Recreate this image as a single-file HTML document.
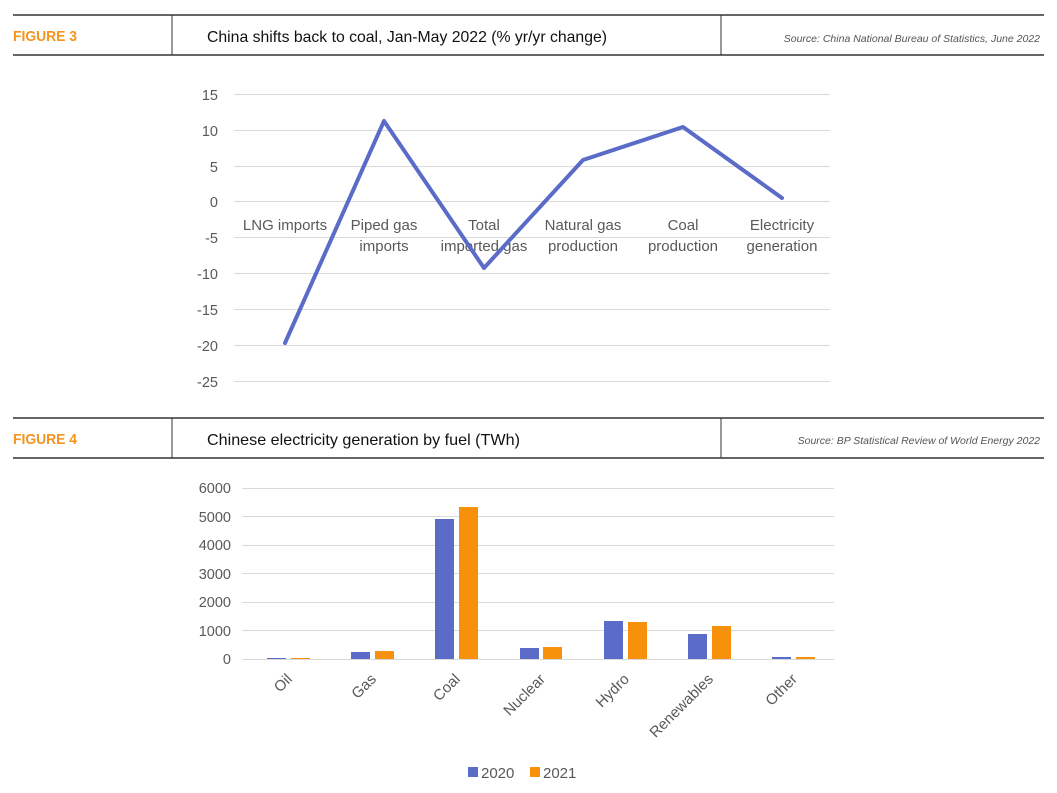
<!DOCTYPE html>
<html><head><meta charset="utf-8"><style>
body{margin:0;background:#fff;}
svg{display:block;}
</style></head><body>
<svg width="1057" height="793" viewBox="0 0 1057 793" xmlns="http://www.w3.org/2000/svg" font-family="Liberation Sans, sans-serif">
<line x1="13" y1="15" x2="1044" y2="15" stroke="#333" stroke-width="1.5"/>
<line x1="13" y1="55" x2="1044" y2="55" stroke="#333" stroke-width="1.5"/>
<line x1="172" y1="15" x2="172" y2="55" stroke="#333" stroke-width="1"/>
<line x1="721" y1="15" x2="721" y2="55" stroke="#333" stroke-width="1"/>
<text x="13" y="41" font-size="15" font-weight="bold" fill="#f7941d" textLength="64" lengthAdjust="spacingAndGlyphs">FIGURE 3</text>
<text x="207" y="42" font-size="16" fill="#111" textLength="400" lengthAdjust="spacingAndGlyphs">China shifts back to coal, Jan-May 2022 (% yr/yr change)</text>
<text x="1040" y="42" font-size="10.5" font-style="italic" fill="#555" text-anchor="end">Source: China National Bureau of Statistics, June 2022</text>
<line x1="13" y1="418" x2="1044" y2="418" stroke="#333" stroke-width="1.5"/>
<line x1="13" y1="458" x2="1044" y2="458" stroke="#333" stroke-width="1.5"/>
<line x1="172" y1="418" x2="172" y2="458" stroke="#333" stroke-width="1"/>
<line x1="721" y1="418" x2="721" y2="458" stroke="#333" stroke-width="1"/>
<text x="13" y="444" font-size="15" font-weight="bold" fill="#f7941d" textLength="64" lengthAdjust="spacingAndGlyphs">FIGURE 4</text>
<text x="207" y="445" font-size="16" fill="#111" textLength="313" lengthAdjust="spacingAndGlyphs">Chinese electricity generation by fuel (TWh)</text>
<text x="1040" y="444" font-size="10.5" font-style="italic" fill="#555" text-anchor="end">Source: BP Statistical Review of World Energy 2022</text>

<g stroke="#d9d9d9" stroke-width="1">
<line x1="234" y1="94.5" x2="830" y2="94.5"/>
<line x1="234" y1="130.5" x2="830" y2="130.5"/>
<line x1="234" y1="166.5" x2="830" y2="166.5"/>
<line x1="234" y1="201.5" x2="830" y2="201.5"/>
<line x1="234" y1="237.5" x2="830" y2="237.5"/>
<line x1="234" y1="273.5" x2="830" y2="273.5"/>
<line x1="234" y1="309.5" x2="830" y2="309.5"/>
<line x1="234" y1="345.5" x2="830" y2="345.5"/>
<line x1="234" y1="381.5" x2="830" y2="381.5"/>
</g>
<g font-size="14.5" fill="#595959" text-anchor="end">
<text x="218" y="100">15</text>
<text x="218" y="136">10</text>
<text x="218" y="172">5</text>
<text x="218" y="207">0</text>
<text x="218" y="243">-5</text>
<text x="218" y="279">-10</text>
<text x="218" y="315">-15</text>
<text x="218" y="351">-20</text>
<text x="218" y="387">-25</text>
</g>
<g font-size="15" fill="#595959" text-anchor="middle">
<text x="285" y="230">LNG imports</text>
<text x="384" y="230">Piped gas</text><text x="384" y="251">imports</text>
<text x="484" y="230">Total</text><text x="484" y="251">imported gas</text>
<text x="583" y="230">Natural gas</text><text x="583" y="251">production</text>
<text x="683" y="230">Coal</text><text x="683" y="251">production</text>
<text x="782" y="230">Electricity</text><text x="782" y="251">generation</text>
</g>
<polyline points="285,343 384,121 484,268 583,160 683,127 782,198" fill="none" stroke="#5b6bc8" stroke-width="4" stroke-linejoin="round" stroke-linecap="round"/>

<g stroke="#d9d9d9" stroke-width="1">
<line x1="242" y1="488.5" x2="834" y2="488.5"/>
<line x1="242" y1="516.5" x2="834" y2="516.5"/>
<line x1="242" y1="545.5" x2="834" y2="545.5"/>
<line x1="242" y1="573.5" x2="834" y2="573.5"/>
<line x1="242" y1="602.5" x2="834" y2="602.5"/>
<line x1="242" y1="630.5" x2="834" y2="630.5"/>
<line x1="242" y1="659.5" x2="834" y2="659.5"/>
</g>
<g font-size="14.5" fill="#595959" text-anchor="end">
<text x="231" y="493">6000</text>
<text x="231" y="522">5000</text>
<text x="231" y="550">4000</text>
<text x="231" y="579">3000</text>
<text x="231" y="607">2000</text>
<text x="231" y="636">1000</text>
<text x="231" y="664">0</text>
</g>
<g fill="#5b6bc8">
<rect x="267" y="658" width="19" height="1"/>
<rect x="351" y="652" width="19" height="7"/>
<rect x="435" y="519" width="19" height="140"/>
<rect x="520" y="648" width="19" height="11"/>
<rect x="604" y="621" width="19" height="38"/>
<rect x="688" y="634" width="19" height="25"/>
<rect x="772" y="657" width="19" height="2"/>
</g>
<g fill="#f7900a">
<rect x="291" y="658" width="19" height="1"/>
<rect x="375" y="651" width="19" height="8"/>
<rect x="459" y="507" width="19" height="152"/>
<rect x="543" y="647" width="19" height="12"/>
<rect x="628" y="622" width="19" height="37"/>
<rect x="712" y="626" width="19" height="33"/>
<rect x="796" y="657" width="19" height="2"/>
</g>
<g font-size="15" fill="#595959" text-anchor="end">
<text transform="translate(293,680) rotate(-45)">Oil</text>
<text transform="translate(377,680) rotate(-45)">Gas</text>
<text transform="translate(461,680) rotate(-45)">Coal</text>
<text transform="translate(546,680) rotate(-45)">Nuclear</text>
<text transform="translate(630,680) rotate(-45)">Hydro</text>
<text transform="translate(714,680) rotate(-45)">Renewables</text>
<text transform="translate(798,680) rotate(-45)">Other</text>
</g>
<rect x="468" y="767" width="10" height="10" fill="#5b6bc8"/>
<text x="481" y="778" font-size="15" fill="#595959">2020</text>
<rect x="530" y="767" width="10" height="10" fill="#f7900a"/>
<text x="543" y="778" font-size="15" fill="#595959">2021</text>
</svg>
</body></html>
